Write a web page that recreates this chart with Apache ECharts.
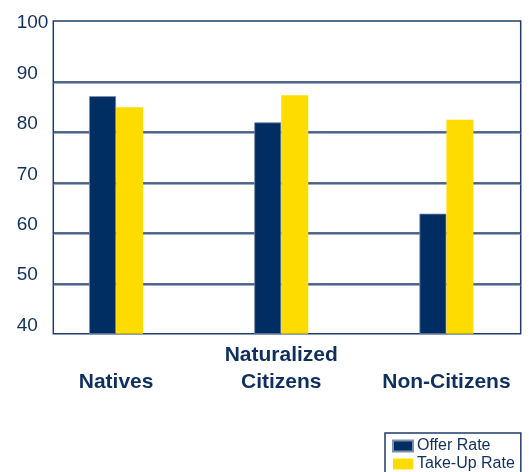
<!DOCTYPE html>
<html><head><meta charset="utf-8">
<script src="https://cdn.jsdelivr.net/npm/echarts@6/dist/echarts.min.js"></script>
<style>html,body{margin:0;padding:0;background:#fff}#c{width:529px;height:472px}</style>
</head><body><div id="c"></div>
<script>
const categories = ['Natives', 'Naturalized\nCitizens', 'Non-Citizens'];
const offerRate = [87.1, 81.9, 63.8];
const takeUpRate = [84.9, 87.3, 82.4];
const yTickLabels = [40, 50, 60, 70, 80, 90, 100];
const seriesNames = ['Offer Rate', 'Take-Up Rate'];

const navy = '#002d62';
const yellow = '#ffdc00';
const frame = '#1f3d6b';
const textC = '#0f2f5e';
const clear = 'rgba(0,0,0,0)';

const chart = echarts.init(document.getElementById('c'), null, {renderer: 'canvas'});
chart.setOption({
  animation: false,
  backgroundColor: '#ffffff',
  grid: [
    {left: 53.3, right: 8.3, top: 21, bottom: 138.3, show: true, borderColor: frame, borderWidth: 1.5, backgroundColor: 'transparent'},
    {left: 33.5, right: -1, top: 21, bottom: 138.3}
  ],
  xAxis: [
    {gridIndex: 0, type: 'category', data: categories, show: false},
    {gridIndex: 1, type: 'category', data: categories,
     axisLine: {show: false}, axisTick: {show: false},
     axisLabel: {margin: 62, verticalAlign: 'bottom', lineHeight: 27, interval: 0,
       fontFamily: 'Liberation Sans, Arial, sans-serif', fontWeight: 'bold', fontSize: 21, color: textC}}
  ],
  yAxis: [
    {gridIndex: 0, type: 'value', min: 40, max: 102, interval: 10,
     axisLine: {show: false}, axisTick: {show: false},
     axisLabel: {
       align: 'left', margin: 36.6, verticalAlign: 'bottom', lineHeight: 16,
       fontFamily: 'Liberation Sans, Arial, sans-serif', fontSize: 19, color: textC,
       formatter: v => (yTickLabels.indexOf(v) >= 0 ? String(v) : '')
     },
     splitLine: {show: true, lineStyle: {
       color: [clear, frame, frame, frame, frame, frame, clear, clear], width: 1.5,
       shadowColor: 'rgba(120,140,170,0.7)', shadowOffsetY: 1.2, shadowBlur: 0}}
    },
    {gridIndex: 1, type: 'value', min: 40, max: 102, interval: 10, show: false, splitLine: {show: false}}
  ],
  legend: {
    orient: 'vertical', left: 385, top: 433, height: 60,
    borderColor: frame, borderWidth: 1.5, borderRadius: 0,
    padding: [5, 6, 8, 7], itemGap: 2, itemWidth: 20, itemHeight: 11,
    icon: 'rect',
    textStyle: {fontFamily: 'Liberation Sans, Arial, sans-serif', fontSize: 16, color: textC, lineHeight: 16, padding: [0, 0, 0, -1]},
    data: seriesNames
  },
  series: [
    {name: seriesNames[0], type: 'bar', xAxisIndex: 1, yAxisIndex: 1, data: offerRate,
     barWidth: 27, barGap: '0%', itemStyle: {color: navy, borderColor: '#7d8fab', borderWidth: 0.8}},
    {name: seriesNames[1], type: 'bar', xAxisIndex: 1, yAxisIndex: 1, data: takeUpRate,
     barWidth: 27, barGap: '0%', itemStyle: {color: yellow}}
  ]
});
</script></body></html>
